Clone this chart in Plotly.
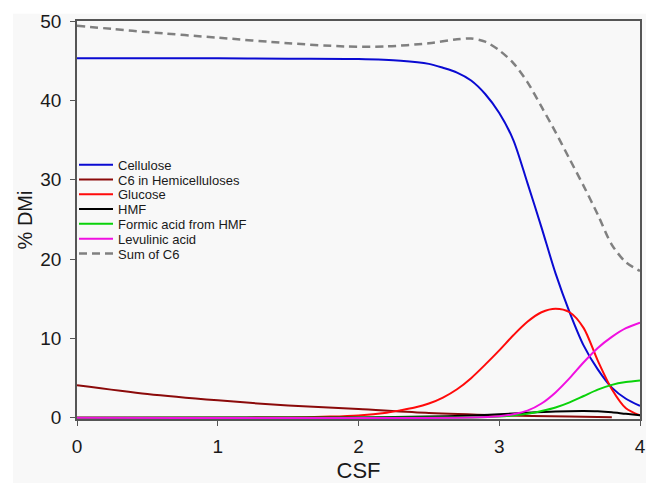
import plotly.graph_objects as go

# ---- data ----
cell_x = [0, 1.0, 1.5, 2.0, 2.3, 2.5, 2.6, 2.7, 2.8, 2.9, 3.0, 3.1, 3.2, 3.3, 3.4, 3.5, 3.6, 3.7, 3.8, 3.9, 4.0]
cell_y = [45.3, 45.3, 45.25, 45.2, 45.0, 44.6, 44.1, 43.5, 42.5, 40.8, 38.4, 35.0, 29.6, 24.0, 18.2, 13.3, 9.1, 6.1, 3.8, 2.4, 1.5]

hemi_x = [0, 0.5, 1.0, 1.5, 2.0, 2.5, 3.0, 3.5, 3.8]
hemi_y = [4.1, 3.0, 2.2, 1.55, 1.1, 0.6, 0.32, 0.15, 0.08]

gluc_x = [0, 1.0, 1.5, 1.8, 2.0, 2.2, 2.3, 2.4, 2.5, 2.6, 2.7, 2.8, 2.9, 3.0, 3.1, 3.2, 3.3, 3.4, 3.5, 3.6, 3.7, 3.8, 3.9, 4.0]
gluc_y = [0, 0.01, 0.05, 0.15, 0.3, 0.65, 0.95, 1.3, 1.8, 2.55, 3.6, 5.0, 6.7, 8.5, 10.4, 12.1, 13.3, 13.75, 13.3, 11.3, 7.2, 3.6, 1.2, 0.3]

hmf_x = [0, 2.0, 2.5, 2.8, 3.0, 3.2, 3.4, 3.6, 3.7, 3.8, 3.9, 4.0]
hmf_y = [0, 0.05, 0.15, 0.3, 0.45, 0.65, 0.8, 0.85, 0.82, 0.7, 0.5, 0.33]

fa_x = [0, 2.8, 3.0, 3.1, 3.2, 3.3, 3.4, 3.5, 3.6, 3.7, 3.8, 3.9, 4.0]
fa_y = [0, 0.05, 0.15, 0.3, 0.5, 0.85, 1.3, 1.95, 2.75, 3.55, 4.15, 4.5, 4.7]

la_x = [0, 2.8, 3.0, 3.1, 3.2, 3.3, 3.4, 3.5, 3.6, 3.7, 3.8, 3.9, 4.0]
la_y = [0, 0.05, 0.2, 0.45, 0.9, 1.8, 3.2, 5.0, 7.0, 8.8, 10.2, 11.3, 12.0]

sum_x = [0, 0.25, 0.5, 1.0, 1.5, 1.9, 2.2, 2.5, 2.7, 2.8, 2.9, 3.0, 3.1, 3.2, 3.3, 3.4, 3.5, 3.6, 3.7, 3.8, 3.9, 4.0]
sum_y = [49.4, 49.0, 48.6, 47.9, 47.2, 46.8, 46.8, 47.2, 47.7, 47.8, 47.4, 46.3, 44.7, 42.3, 39.2, 36.0, 32.6, 29.2, 25.6, 21.8, 19.6, 18.5]

x_ticks = [0, 1, 2, 3, 4]
y_ticks = [0, 10, 20, 30, 40, 50]

series = [
    ("Cellulose", cell_x, cell_y, "#0a0ad2", "solid"),
    ("C6 in Hemicelluloses", hemi_x, hemi_y, "#8b0a0a", "solid"),
    ("Glucose", gluc_x, gluc_y, "#ff0a0a", "solid"),
    ("HMF", hmf_x, hmf_y, "#000000", "solid"),
    ("Formic acid from HMF", fa_x, fa_y, "#0ad20a", "solid"),
    ("Levulinic acid", la_x, la_y, "#f010e0", "solid"),
    ("Sum of C6", sum_x, sum_y, "#808080", "8px,5px"),
]

FONT = "Liberation Sans, Arial, sans-serif"
T, B, L, R = 21, 64, 77, 6
H, W = 483, 646
ph = H - T - B
pw = W - L - R

fig = go.Figure()
legend_layout = {}
for i, (name, xs, ys, col, dash) in enumerate(series):
    lname = "legend" if i == 0 else f"legend{i + 1}"
    fig.add_trace(go.Scatter(
        x=xs, y=ys, mode="lines", name=name, legend=lname,
        line=dict(color=col, width=2.5 if dash != "solid" else 2, dash=dash,
                  shape="spline", smoothing=0.8),
    ))
    cy = 164.7 + 14.8 * i
    legend_layout[lname] = dict(
        x=-3 / pw, y=(H - B - cy) / ph, xanchor="left", yanchor="middle",
        bgcolor="rgba(0,0,0,0)", itemwidth=34,
        font=dict(size=13, family=FONT, color="#1a1a1a"))

fig.update_layout(
    width=W, height=H,
    margin=dict(l=L, r=R, t=T, b=B),
    paper_bgcolor="white",
    plot_bgcolor="rgba(0,0,0,0)",
    font=dict(family=FONT, color="#1a1a1a"),
    showlegend=True,
    shapes=[dict(type="rect", xref="paper", yref="paper",
                 x0=-(L - 13) / pw, x1=1.05, y0=-0.2, y1=1.018,
                 fillcolor="#f8f8f8", line=dict(width=0), layer="below")],
    **legend_layout,
)
fig.update_xaxes(range=[0, 4], tickvals=x_ticks, ticks="outside", ticklen=5,
                 tickcolor="#555", showline=True, linecolor="#555", linewidth=1.5,
                 mirror=True, showgrid=False, zeroline=False, automargin=False,
                 ticklabelstandoff=4, ticklabeloverflow="allow",
                 tickfont=dict(size=19, family=FONT),
                 title=dict(text="CSF", font=dict(size=22, family=FONT)))
fig.update_yaxes(range=[-0.15, 50], tickvals=y_ticks, ticks="outside", ticklen=5,
                 tickcolor="#555", showline=True, linecolor="#555", linewidth=1.5,
                 mirror=True, showgrid=False, zeroline=False, automargin=False,
                 ticklabelstandoff=5, ticklabeloverflow="allow",
                 tickfont=dict(size=19, family=FONT),
                 title=dict(text="% DMi", font=dict(size=20, family=FONT), standoff=2))

fig.write_html("out.html", config={"displayModeBar": False},
               post_script="document.body.style.margin='0';document.body.style.overflow='hidden';")
